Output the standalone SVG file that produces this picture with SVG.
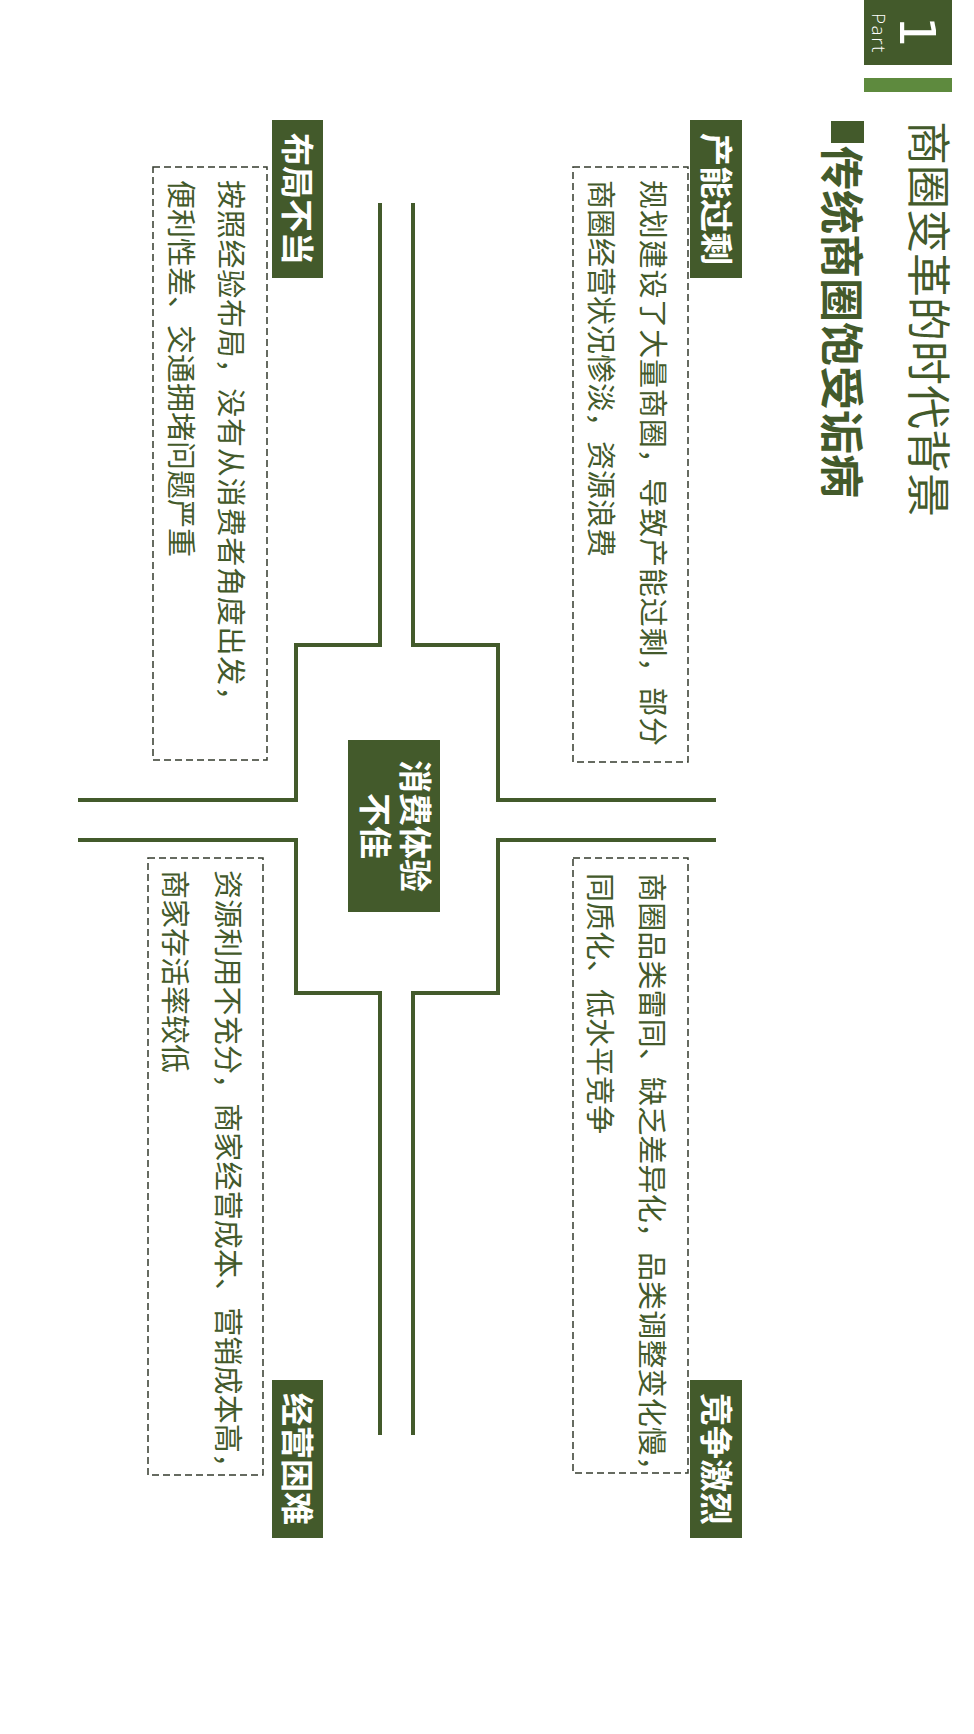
<svg xmlns="http://www.w3.org/2000/svg" width="974" height="1734" viewBox="0 0 974 1734">
<style>
.dk{fill:#435a2b}
.lt{fill:#5e8a3e}
.road{fill:none;stroke:#435a2b;stroke-width:4;stroke-linejoin:miter}
.dash{fill:none;stroke:#353b2e;stroke-width:1.5;stroke-dasharray:7 4}
.cjk{font-family:"Noto Sans CJK SC","Noto Sans",sans-serif}
.body{font-size:29px;fill:#435a2b}
.tag{font-size:33px;font-weight:bold;fill:#ffffff;text-anchor:middle}
.ctr{font-size:33px;font-weight:bold;fill:#ffffff;text-anchor:middle}
</style>
<rect width="974" height="1734" fill="#ffffff"/>
<g id="header">
<rect class="dk" x="864" y="0" width="88" height="65"/>
<text x="900" y="32" transform="rotate(90 900 32)" font-family="DejaVu Sans,sans-serif" font-size="50" fill="#ffffff" text-anchor="middle">1</text>
<text x="872" y="13" transform="rotate(90 872 13)" font-family="Open Sans,sans-serif" font-weight="300" font-size="19" letter-spacing="1.5" fill="#ffffff">Part</text>
<rect class="lt" x="864" y="78" width="88" height="14"/>
<text class="cjk" x="912" y="121" transform="rotate(90 912 121)" font-size="44" fill="#435a2b">商圈变革的时代背景</text>
<rect class="dk" x="831" y="121" width="33" height="22"/>
<text class="cjk" x="825" y="146" transform="rotate(90 825 146)" font-size="44" font-weight="bold" fill="#435a2b">传统商圈饱受诟病</text>
</g>
<g id="connectors">
<polyline class="road" points="380,203 380,645 296,645 296,800 78,800"/>
<polyline class="road" points="413,203 413,645 498,645 498,800 716,800"/>
<polyline class="road" points="380,1435 380,993 296,993 296,840 78,840"/>
<polyline class="road" points="413,1435 413,993 498,993 498,840 716,840"/>
</g>
<g id="center">
<rect class="dk" x="348" y="740" width="92" height="172"/>
<text class="cjk ctr" x="403" y="826" transform="rotate(90 403 826)">消费体验</text>
<text class="cjk ctr" x="363" y="826" transform="rotate(90 363 826)">不佳</text>
</g>
<g id="node-capacity">
<rect class="dk" x="690" y="120" width="52" height="158"/>
<text class="cjk tag" x="703.5" y="199" transform="rotate(90 703.5 199)">产能过剩</text>
<rect class="dash" x="573" y="167" width="115" height="595"/>
<text class="cjk body" x="642" y="180" transform="rotate(90 642 180)" textLength="566" lengthAdjust="spacing">规划建设了大量商圈，导致产能过剩，部分</text>
<text class="cjk body" x="590" y="180" transform="rotate(90 590 180)">商圈经营状况惨淡，资源浪费</text>
</g>
<g id="node-layout">
<rect class="dk" x="272" y="120" width="51" height="158"/>
<text class="cjk tag" x="285" y="199" transform="rotate(90 285 199)">布局不当</text>
<rect class="dash" x="153" y="167" width="114" height="593"/>
<text class="cjk body" x="219.5" y="180" transform="rotate(90 219.5 180)" textLength="535" lengthAdjust="spacing">按照经验布局，没有从消费者角度出发，</text>
<text class="cjk body" x="170" y="180" transform="rotate(90 170 180)">便利性差、交通拥堵问题严重</text>
</g>
<g id="node-competition">
<rect class="dk" x="690" y="1380" width="52" height="158"/>
<text class="cjk tag" x="703.5" y="1459" transform="rotate(90 703.5 1459)">竞争激烈</text>
<rect class="dash" x="573" y="858" width="115" height="615"/>
<text class="cjk body" x="641" y="873" transform="rotate(90 641 873)" textLength="612" lengthAdjust="spacing">商圈品类雷同、缺乏差异化，品类调整变化慢，</text>
<text class="cjk body" x="589" y="873" transform="rotate(90 589 873)">同质化、低水平竞争</text>
</g>
<g id="node-operation">
<rect class="dk" x="272" y="1380" width="51" height="158"/>
<text class="cjk tag" x="285" y="1459" transform="rotate(90 285 1459)">经营困难</text>
<rect class="dash" x="148" y="858" width="115" height="617"/>
<text class="cjk body" x="217" y="870" transform="rotate(90 217 870)" textLength="612" lengthAdjust="spacing">资源利用不充分，商家经营成本、营销成本高，</text>
<text class="cjk body" x="164" y="870" transform="rotate(90 164 870)">商家存活率较低</text>
</g>
</svg>
